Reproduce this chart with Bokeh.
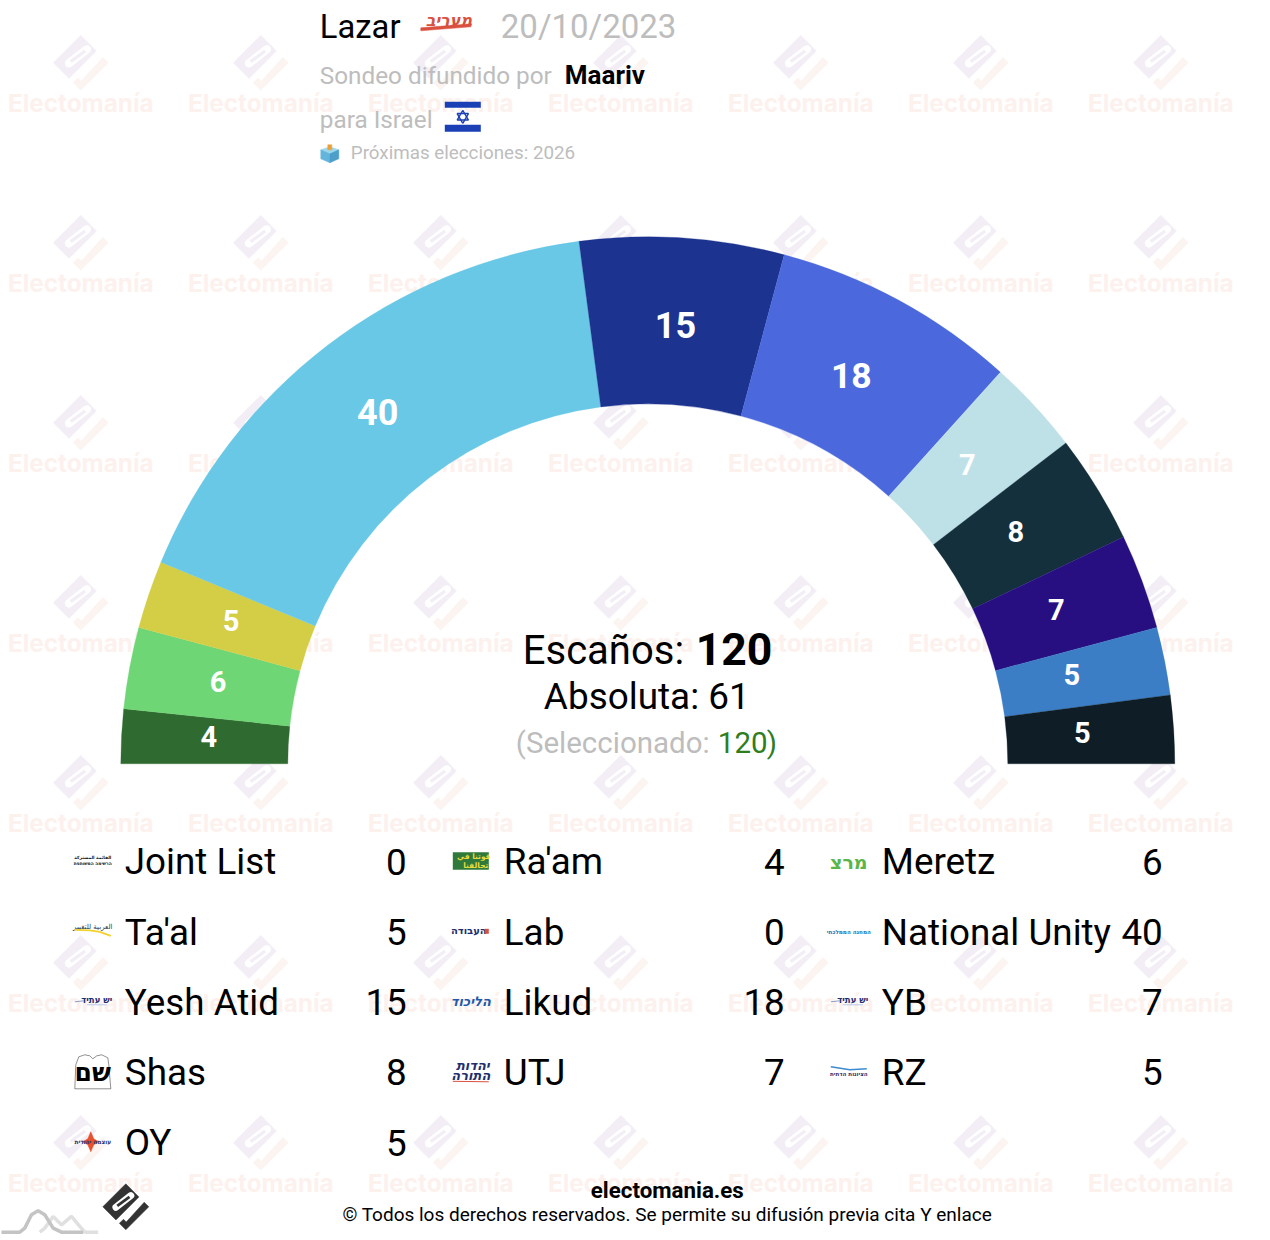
import math
from bokeh.plotting import figure
from bokeh.models import Range1d
from bokeh.core.properties import value
from bokeh.embed import file_html
from bokeh.resources import INLINE

# ---- data ----
arc_seats = [4, 6, 5, 40, 15, 18, 7, 8, 7, 5, 5]
arc_colors = ["#2F6A31", "#6FD675", "#D4CE47", "#69C8E6", "#1C338F", "#4B69DD",
              "#BEE1E8", "#13303C", "#270F82", "#3B7EC6", "#0E1D26"]
arc_label_sizes = [29, 29, 29, 36, 36, 35.5, 29, 29, 29, 29, 29]
arc_label_dx = [1, 3.5, 0.5, -1, 1.5, -3, 0.5, -3, 0, -3, 0]
arc_label_dy = [-1, 1, 0, -1, 1.5, 0, 1, 0, 0.5, -1, 0]

legend_parties = ["Joint List", "Ra'am", "Meretz", "Ta'al", "Lab", "National Unity",
                  "Yesh Atid", "Likud", "YB", "Shas", "UTJ", "RZ", "OY"]
legend_seats = [0, 4, 6, 5, 0, 40, 15, 18, 7, 8, 7, 5, 5]

TOTAL_SEATS = 120
MAJORITY = 61
SELECTED = 120

W, H = 1270, 1240
CX, CY, R_OUT, R_IN = 648, 764, 527, 360


def Y(py):
    return H - py


p = figure(width=W, height=H, x_range=Range1d(0.7, W + 0.7), y_range=Range1d(-0.7, H - 0.7),
           min_border=0, toolbar_location=None, output_backend="svg",
           x_axis_type=None, y_axis_type=None, background_fill_color="white",
           border_fill_color="white")
p.outline_line_color = None
p.grid.visible = False


def txt(x, y, s, size, color="#000000", style="normal", align="left", font="Roboto", angle=0):
    p.text([x], [Y(y)], text=[s], text_font=value(font), text_font_size=f"{size}px",
           text_font_style=style, text_color=color, text_align=align,
           text_baseline="middle", angle=angle)


def poly(points, color, ox=0, oy=0, scale=1.0, line=None):
    xs = [ox + a * scale for a, b in points]
    ys = [Y(oy + b * scale) for a, b in points]
    p.patch(xs, ys, fill_color=color, line_color=line if line else color, line_width=0.5)


LOGO_MAIN = [(0, -1), (-1, 0), (-0.43, 0.57), (0.57, -0.43)]
LOGO_HOOK = [(1, 0), (0, 1), (-0.28, 0.72), (-0.10, 0.54), (0.02, 0.66), (0.80, -0.20)]


def brand(cx, cy, r, c_main, c_hook, c_slot="#FFFFFF"):
    poly(LOGO_MAIN, c_main, cx, cy, r)
    poly(LOGO_HOOK, c_hook, cx, cy, r)
    p.line([cx - 0.43 * r, cx + 0.22 * r], [Y(cy + 0.02 * r), Y(cy - 0.49 * r)],
           line_color=c_slot, line_width=0.30 * r, line_cap="round")
    p.line([cx - 0.37 * r, cx + 0.16 * r], [Y(cy - 0.04 * r), Y(cy - 0.43 * r)],
           line_color=c_main, line_width=0.12 * r)


# ---- watermark ----
for m in range(7):
    for k in range(7):
        brand(81 + 180 * k, 63 + 180 * m, 27.5, "#F3EEF6", "#FBF4F0")
        txt(81 + 180 * k, 103 + 180 * m, "Electomanía", 24.3, "#FDF1EE", "bold", "center", "Inter")

# ---- hemicycle ----
cum = 0
for s, c in zip(arc_seats, arc_colors):
    a0 = math.pi - cum * math.pi / TOTAL_SEATS
    a1 = math.pi - (cum + s) * math.pi / TOTAL_SEATS
    p.annular_wedge([CX], [Y(CY)], inner_radius=R_IN, outer_radius=R_OUT,
                    start_angle=a1, end_angle=a0, fill_color=c, line_color=c, line_width=0.3)
    cum += s

cum = 0
for s, fs, dx, dy in zip(arc_seats, arc_label_sizes, arc_label_dx, arc_label_dy):
    a = math.pi * (cum + s / 2) / TOTAL_SEATS
    txt(645.5 + dx - 438 * math.cos(a), 761 + dy - 438 * math.sin(a), str(s), fs, "#FFFFFF", "bold", "center")
    cum += s

# ---- centre text ----
txt(523, 651, "Escaños:", 40)
txt(696, 649, str(TOTAL_SEATS), 44.5, style="bold")
txt(647, 697, f"Absoluta: {MAJORITY}", 36.9, align="center")
txt(516, 743, "(Seleccionado:", 29.5, "#BDBDBD")
txt(718, 743, str(SELECTED), 29.5, "#2E7D1E")
txt(767, 743, ")", 29.5, "#2E7D1E")

# ---- header ----
txt(320, 27, "Lazar", 32.8)
txt(501, 27, "20/10/2023", 33, "#BDBDBD")
txt(320, 76, "Sondeo difundido por", 24.3, "#BDBDBD")
txt(565, 75, "Maariv", 26, style="bold")
txt(320, 120, "para Israel", 24.3, "#BDBDBD")
txt(351, 153, "Próximas elecciones: 2026", 18.8, "#BDBDBD")

# Maariv mark
txt(449, 20.5, "מעריב", 16, "#D9503F", "bold italic", "center", "DejaVu Sans")
poly([(421, 28), (472, 24), (471, 27), (421, 31)], "#D9503F")

# flag
p.quad(left=[445, 445], right=[481, 481], top=[Y(102), Y(125)], bottom=[Y(108), Y(132)],
       fill_color="#1B3FB5", line_color=None)
for sign in (-1, 1):
    tri = [(463 + 6.5 * math.sin(t), 117 - sign * 6.5 * math.cos(t))
           for t in (0, 2 * math.pi / 3, 4 * math.pi / 3, 0)]
    p.line([a for a, b in tri], [Y(b) for a, b in tri], line_color="#1B3FB5", line_width=1.4)

# ballot box
poly([(321, 150), (330, 147), (339, 150), (330, 154)], "#9AD8EE")
poly([(321, 150), (330, 154), (330, 163), (321, 159)], "#63B5DC")
poly([(339, 150), (330, 154), (330, 163), (339, 159)], "#4C9FC9")
poly([(328, 145), (332, 145), (332, 150), (328, 150)], "#EE9F35")

# ---- legend ----
col_logo = [93, 471, 849]
col_name = [125, 504, 882]
col_val = [407, 785, 1163]
for i, (name, seats) in enumerate(zip(legend_parties, legend_seats)):
    r, c = divmod(i, 3)
    yy = 862 + r * 70.2
    txt(col_name[c], yy, name, 36.8)
    txt(col_val[c], yy, str(seats), 36.8, align="right")

HEB = "DejaVu Sans"
NAVY = "#1E2F6E"
# Joint List
txt(93, 858, "القائمة المشتركة", 4.4, "#111111", "bold", "center", HEB)
txt(93, 864, "הרשימה המשותפת", 4.4, "#111111", "bold", "center", HEB)
# Ra'am
p.quad(left=[453], right=[489], top=[Y(852.5)], bottom=[Y(870)], fill_color="#2F7A3A", line_color=None)
txt(474, 857, "قوتنا في", 7.5, "#E9DB3F", "bold", "center", HEB)
txt(476, 866, "تحالفنا", 7.5, "#E9DB3F", "bold", "center", HEB)
# Meretz
txt(849, 862, "מרצ", 19, "#5BB548", "bold", "center", HEB)
# Ta'al
txt(93, 927, "العربية للتغيير", 7, "#333333", "normal", "center", HEB)
p.line([75, 90, 100, 111], [Y(930), Y(930.5), Y(932), Y(936)], line_color="#F3D22F", line_width=1.8)
# Labor
txt(469, 931, "העבודה", 10, NAVY, "bold", "center", HEB)
p.quad(left=[485], right=[489], top=[Y(929)], bottom=[Y(934)], fill_color="#D9503F", line_color=None)
# National Unity
txt(849, 932, "המחנה הממלכתי", 5.6, "#1E6FB0", "bold", "center", HEB)
# Yesh Atid / YB
for xc in (93, 849):
    txt(xc + 4, 1000, "יש עתיד", 8.5, NAVY, "bold", "center", HEB)
    p.line([xc - 18, xc - 9], [Y(1002), Y(1001)], line_color="#8AA0C8", line_width=1)
    p.line([xc - 6, xc + 14], [Y(1005), Y(1005)], line_color="#B8C8E8", line_width=1)
# Likud
txt(471, 1002, "הליכוד", 13, "#1F5AA8", "bold italic", "center", HEB)
# Shas
shas = [(75, 1089), (76, 1065), (79, 1057), (85, 1055), (90, 1056), (93, 1059), (97, 1056),
        (102, 1055), (108, 1058), (109, 1065), (111, 1089)]
poly(shas, "#FFFFFF", line="#222222")
txt(93, 1073, "שם", 25, "#000000", "bold", "center", HEB)
# UTJ
txt(473, 1066, "יהדות", 13, NAVY, "bold italic", "center", HEB)
txt(471, 1076, "התורה", 13, NAVY, "bold italic", "center", HEB)
p.line([453, 489], [Y(1081.5), Y(1082)], line_color="#D9503F", line_width=1)
# RZ
p.line([831, 850, 867], [Y(1067), Y(1070), Y(1069)], line_color="#3D8CD0", line_width=1.6)
txt(849, 1074, "הציונות הדתית", 5.6, NAVY, "bold", "center", HEB)
# OY
poly([(91, 1132), (94, 1139), (99, 1142), (94, 1145), (91, 1152), (88, 1145), (83, 1142), (88, 1139)], "#E8502E")
txt(93, 1142, "עוצמה יהודית", 5.8, NAVY, "bold", "center", HEB)

# ---- footer ----
light = [(120, 97), (135, 85), (160, 50), (185, 75), (215, 50), (240, 80), (255, 97), (295, 97)]
dark = [(5, 97), (60, 97), (75, 85), (95, 45), (115, 33), (135, 45), (160, 85), (185, 97), (250, 97)]
p.line([a / 3 for a, b in light], [Y(1200 + b / 3) for a, b in light], line_color="#E0E0E0", line_width=3.5)
p.line([a / 3 for a, b in dark], [Y(1200 + b / 3) for a, b in dark], line_color="#C4C4C4", line_width=3.5)
brand(126, 1207, 23, "#333333", "#333333", "#FFFFFF")
txt(667.5, 1190, "electomania.es", 22.3, style="bold", align="center")
txt(667.5, 1215, "© Todos los derechos reservados. Se permite su difusión previa cita Y enlace", 19, align="center")

open("out.html", "w").write(file_html(p, INLINE))
